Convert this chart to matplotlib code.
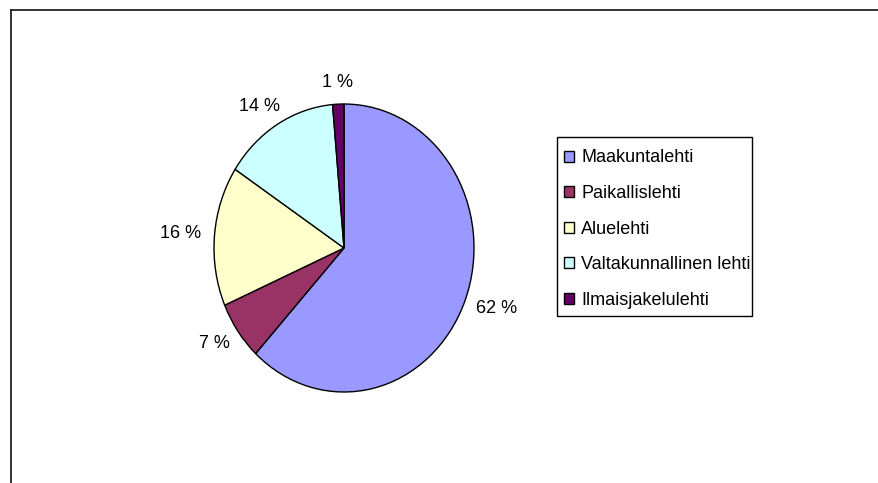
import numpy as np
import matplotlib
matplotlib.use("Agg")
import matplotlib.pyplot as plt
from matplotlib.patches import Patch, Rectangle
from matplotlib.lines import Line2D

plt.rcParams['font.family'] = ['Liberation Sans', 'DejaVu Sans']

categories = ["Maakuntalehti", "Paikallislehti", "Aluelehti",
              "Valtakunnallinen lehti", "Ilmaisjakelulehti"]
values = [61.9, 6.6, 15.7, 14.4, 1.4]
colors = ["#9999FF", "#993366", "#FFFFCC", "#CCFFFF", "#660066"]

W, H = 879, 483
fig = plt.figure(figsize=(W / 100, H / 100), dpi=100)

cx, cy = 344.0, 248.0
rx, ry = 130.0, 144.0
ax = fig.add_axes([(cx - rx) / W, (H - cy - ry) / H, 2 * rx / W, 2 * ry / H])
wedges, texts, autotexts = ax.pie(
    values, colors=colors, startangle=90, counterclock=False,
    autopct=lambda p: f"{p:.0f} %", pctdistance=1.2,
    wedgeprops=dict(edgecolor="black", linewidth=1.0),
    textprops=dict(fontsize=13, color="black"),
)
ax.set_aspect('auto')
ax.set_xlim(-1, 1)
ax.set_ylim(-1, 1)
ax.axis('off')

# place labels just outside the slice edge (Excel "outside end" style)
fig.canvas.draw()
renderer = fig.canvas.get_renderer()
k = 1.1
for w, t in zip(wedges, autotexts):
    th = np.deg2rad(0.5 * (w.theta1 + w.theta2))
    ext = t.get_window_extent(renderer)
    x0, y0 = ax.transData.transform((0, 0))
    x1, _ = ax.transData.transform((1, 0))
    _, y1 = ax.transData.transform((0, 1))
    prx, pry = x1 - x0, y1 - y0
    px = x0 + k * prx * np.cos(th) + 0.5 * ext.width * np.cos(th)
    py = y0 + k * pry * np.sin(th) + 0.5 * 14 * np.sin(th)
    t.set_position(ax.transData.inverted().transform((px, py)))
    t.set_ha('center')
    t.set_va('center')

handles = [Patch(facecolor=c, edgecolor="black", linewidth=1.0) for c in colors]
leg = fig.legend(handles, categories, loc="upper left",
                 bbox_to_anchor=(564.3 / W, 1 - 149.5 / H), borderaxespad=0,
                 fontsize=13, frameon=False,
                 handlelength=0.55, handleheight=0.55, handletextpad=0.4,
                 labelspacing=1.03, borderpad=0)

# legend box
fig.add_artist(Rectangle((557 / W, 1 - 316 / H), (752 - 557) / W, (316 - 137) / H,
                         transform=fig.transFigure, facecolor="none",
                         edgecolor="black", linewidth=1.0))

# chart area border (top and left edges visible)
fig.add_artist(Line2D([11.5 / W, 1], [1 - 9.5 / H, 1 - 9.5 / H],
                      transform=fig.transFigure, color="#222222", linewidth=1.3))
fig.add_artist(Line2D([11.5 / W, 11.5 / W], [0, 1 - 9.5 / H],
                      transform=fig.transFigure, color="#222222", linewidth=1.3))

fig.savefig("out.png", dpi=100)
